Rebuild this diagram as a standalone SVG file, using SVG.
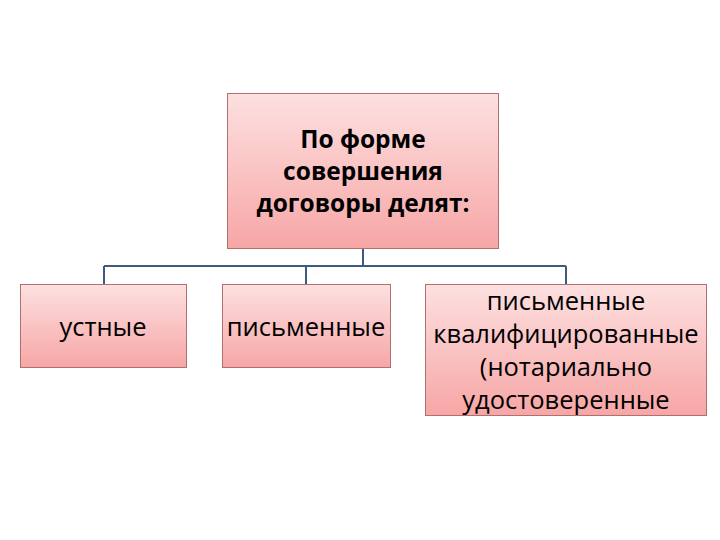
<svg xmlns="http://www.w3.org/2000/svg" width="720" height="540" viewBox="0 0 720 540">
<defs>
<linearGradient id="pink" x1="0" y1="0" x2="0" y2="1">
<stop offset="0" stop-color="#fde0e0"/>
<stop offset="1" stop-color="#f7a6a6"/>
</linearGradient>
<style>
.box{fill:url(#pink);stroke:#b0706e;stroke-width:1}
.t{font-family:"Open Sans","Noto Sans","DejaVu Sans",sans-serif;fill:#000;text-anchor:middle}
.b{font-weight:bold;font-size:24.5px}
.r{font-size:25.5px}
.c{fill:none;stroke:#3f5a7f;stroke-width:2}
</style>
</defs>
<rect width="720" height="540" fill="#fff"/>
<g id="connectors">
<path class="c" d="M363 249V266M104 266H566M104 266V284M306 266V284M566 266V284"/>
</g>
<g id="root">
<rect class="box" x="227.5" y="93.5" width="271" height="155"/>
<text class="t b" x="363" y="148">По форме</text>
<text class="t b" x="363" y="180">совершения</text>
<text class="t b" x="363" y="212">договоры делят:</text>
</g>
<g id="oral">
<rect class="box" x="20.5" y="284.5" width="166" height="83"/>
<text class="t r" x="103" y="336">устные</text>
</g>
<g id="written">
<rect class="box" x="222.5" y="284.5" width="168" height="83"/>
<text class="t r" x="306" y="336">письменные</text>
</g>
<g id="notarial">
<rect class="box" x="425.5" y="284.5" width="281" height="131"/>
<text class="t r" x="566" y="310">письменные</text>
<text class="t r" x="566" y="343">квалифицированные</text>
<text class="t r" x="566" y="376">(нотариально</text>
<text class="t r" x="566" y="409">удостоверенные</text>
</g>
</svg>
